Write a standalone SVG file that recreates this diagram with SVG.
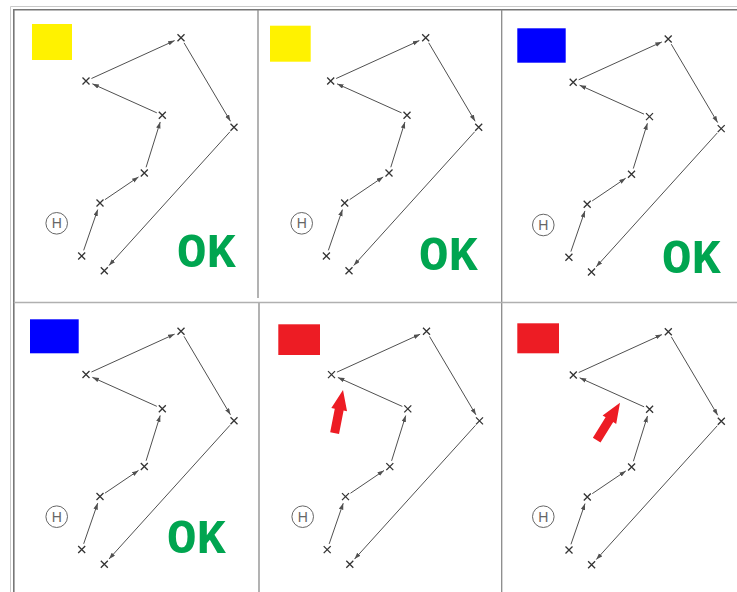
<svg xmlns="http://www.w3.org/2000/svg" xmlns:xlink="http://www.w3.org/1999/xlink" width="737" height="592" viewBox="0 0 737 592">
<style>
.frameL{stroke:#cacaca;stroke-width:1;fill:none}
.frameD{stroke:#777;stroke-width:1.6;fill:none}
.div{stroke:#8a8a8a;stroke-width:1.3;fill:none}
.divH{stroke:#b0b0b0;stroke-width:1.5;fill:none}
.cross{stroke:#333;stroke-width:1.3;fill:none}
.conn line{stroke:#505050;stroke-width:1;marker-end:url(#ah)}
.home circle{fill:none;stroke:#666;stroke-width:1}
.home text{font-family:"Liberation Sans",Arial,sans-serif;font-size:14px;fill:#666;text-anchor:middle}
.ok{font-family:"Liberation Mono","DejaVu Sans Mono",monospace;font-weight:bold;font-size:49px;fill:#00a550}
.yellow{fill:#fff200}
.blue{fill:#0000ff}
.red{fill:#ed1c24}
</style>
<defs>
<marker id="ah" markerUnits="userSpaceOnUse" markerWidth="8" markerHeight="6" refX="6.5" refY="2.25" orient="auto">
<path d="M0,0 L6.5,2.25 L0,4.5 Z" fill="#505050"/>
</marker>
<path id="x" class="cross" d="M-3.5,-3.5 L3.5,3.5 M-3.5,3.5 L3.5,-3.5"/>
<g id="route">
<g class="conn">
<line x1="83.66" y1="250.33" x2="97.72" y2="209.62"/>
<line x1="104.97" y1="199.63" x2="138.5" y2="176.93"/>
<line x1="146.09" y1="167.27" x2="160.21" y2="121.98"/>
<line x1="156.83" y1="112.84" x2="92.38" y2="83.87"/>
<line x1="91.46" y1="78.51" x2="174.63" y2="40.61"/>
<line x1="184.05" y1="42.87" x2="230.44" y2="121.27"/>
<line x1="229.97" y1="131.75" x2="109.0" y2="265.51"/>
</g>
<use xlink:href="#x" x="181" y="37.7"/>
<use xlink:href="#x" x="86" y="81"/>
<use xlink:href="#x" x="162.3" y="115.3"/>
<use xlink:href="#x" x="144.3" y="173"/>
<use xlink:href="#x" x="100" y="203"/>
<use xlink:href="#x" x="81.7" y="256"/>
<use xlink:href="#x" x="234" y="127.3"/>
<use xlink:href="#x" x="104.3" y="270.7"/>
</g>
<polygon id="bigarrow" points="0,0 8,20 4.5,20 4.5,44 -4.5,44 -4.5,20 -8,20"/>
</defs>

<g id="frame">
<path class="frameL" d="M10.5,592 V6.5 H737"/>
<path class="frameD" d="M13.8,592 V9.8 H737"/>
<path class="div" d="M258,9.8 V298 M259,302 V592 M501.7,9.8 V592"/>
<path class="divH" d="M13.8,302.5 H737"/>
</g>

<g id="panel1">
<rect class="yellow" x="32" y="24" width="40" height="36"/>
<g id="p1-home" class="home"><circle cx="56.7" cy="223.3" r="10.8"/><text x="56.7" y="228.3">H</text></g>
<g id="p1-route"><use xlink:href="#route"/></g>
<text class="ok" x="177" y="267">OK</text>
</g>

<g id="panel2" transform="translate(244.7,0)">
<rect class="yellow" x="25.3" y="25.7" width="40.7" height="36"/>
<g id="p2-home" class="home"><circle cx="57" cy="223.3" r="10.8"/><text x="57" y="228.3">H</text></g>
<g id="p2-route"><use xlink:href="#route"/></g>
<text class="ok" x="174.3" y="270">OK</text>
</g>

<g id="panel3" transform="translate(487.2,1.3)">
<rect class="blue" x="30.1" y="27" width="48.4" height="34.4"/>
<g id="p3-home" class="home"><circle cx="56.1" cy="223.7" r="10.8"/><text x="56.1" y="228.7">H</text></g>
<g id="p3-route"><use xlink:href="#route"/></g>
<text class="ok" x="174.8" y="271.7">OK</text>
</g>

<g id="panel4" transform="translate(0,293.5)">
<rect class="blue" x="30" y="25.8" width="48.7" height="34"/>
<g id="p4-home" class="home"><circle cx="56.7" cy="223.2" r="10.8"/><text x="56.7" y="228.2">H</text></g>
<g id="p4-route"><use xlink:href="#route"/></g>
<text class="ok" x="167" y="259.5">OK</text>
</g>

<g id="panel5" transform="translate(245.5,293.6)">
<rect class="red" x="32.8" y="30.7" width="41.7" height="30.7"/>
<g id="p5-home" class="home"><circle cx="57.2" cy="223.1" r="10.8"/><text x="57.2" y="228.1">H</text></g>
<g id="p5-route"><use xlink:href="#route"/></g>
<use class="red" xlink:href="#bigarrow" transform="translate(97.5,96.4) rotate(11)"/>
</g>

<g id="panel6" transform="translate(487.3,294)">
<rect class="red" x="30" y="29.3" width="41.7" height="30"/>
<g id="p6-home" class="home"><circle cx="56" cy="222.7" r="10.8"/><text x="56" y="227.7">H</text></g>
<g id="p6-route"><use xlink:href="#route"/></g>
<use class="red" xlink:href="#bigarrow" transform="translate(132.7,108.7) rotate(32)"/>
</g>
</svg>
